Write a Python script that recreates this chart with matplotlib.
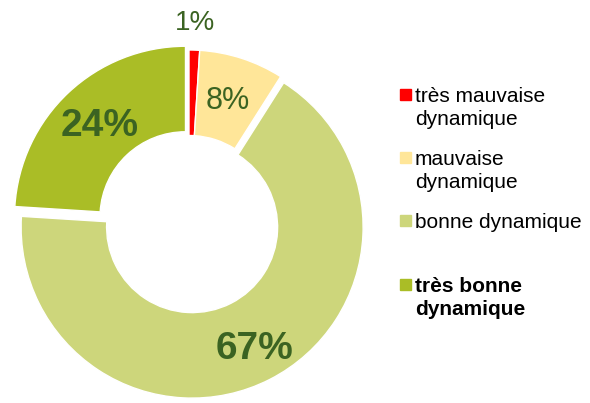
import numpy as np
import matplotlib
matplotlib.use("Agg")
import matplotlib.pyplot as plt
from matplotlib.patches import Rectangle

plt.rcParams['font.family'] = ['Liberation Sans', 'DejaVu Sans']

# data
categories = ["très mauvaise\ndynamique", "mauvaise\ndynamique", "bonne dynamique", "très bonne\ndynamique"]
shares = [1, 8, 67, 24]
pct_labels = ["1%", "8%", "67%", "24%"]
colors = ["#FF0000", "#FFE699", "#CDD67B", "#AABD26"]
text_col = "#3B6322"

W, H = 590, 403
cx, cy, R = 189, 221, 171   # pixel centre / radius of donut


def px(x, y):
    # pixel (from top-left) -> data coords
    return (x - cx) / R, (cy - y) / R


fig = plt.figure(figsize=(W / 100, H / 100), dpi=100)
ax = fig.add_axes([0, 0, 1, 1])

wedges, _ = ax.pie(shares, colors=colors, startangle=90, counterclock=False,
                   explode=[0, 0, 0.04, 0.03], radius=1,
                   wedgeprops=dict(width=0.5, edgecolor="white", linewidth=1))

ax.set_xlim(-cx / R, (W - cx) / R)
ax.set_ylim(-(H - cy) / R, cy / R)
ax.set_aspect('auto')
ax.axis('off')

# percentage labels along slice bisectors
lab_r = [1.16, 0.74, 0.80, 0.73]
lab_size = [20, 22, 28, 28]
lab_weight = ["normal", "normal", "bold", "bold"]
for w, t, r, s, fw in zip(wedges, pct_labels, lab_r, lab_size, lab_weight):
    ang = np.deg2rad((w.theta1 + w.theta2) / 2)
    x0, y0 = w.center
    ax.text(x0 + r * np.cos(ang), y0 + r * np.sin(ang), t, fontsize=s,
            fontweight=fw, color=text_col, ha="center", va="center")

# legend (manual, Excel-like irregular spacing)
leg_y = [89, 152, 215, 279]
leg_weight = ["normal", "normal", "normal", "bold"]
for c, lab, y, fw in zip(colors, categories, leg_y, leg_weight):
    x0, y0 = px(400, y + 11)
    ax.add_patch(Rectangle((x0, y0), 11 / R, 11 / R, color=c, clip_on=False))
    tx, ty = px(415, y - 2)
    ax.text(tx, ty, lab, fontsize=15, fontweight=fw, color="black",
            ha="left", va="top", linespacing=1.27)

fig.savefig("out.png", dpi=100)
